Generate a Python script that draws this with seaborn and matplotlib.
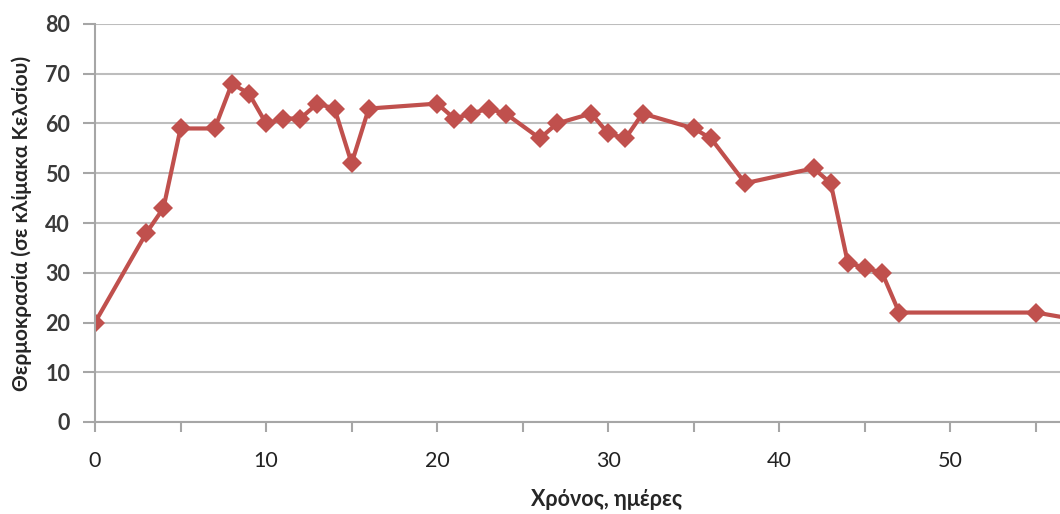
import pandas as pd
import matplotlib.pyplot as plt
import numpy as np
import seaborn as sns

# ημέρες και θερμοκρασία (διαβασμένα από το γράφημα)
days = [0, 3, 4, 5, 7, 8, 9, 10, 11, 12, 13, 14, 15, 16, 20, 21, 22, 23, 24,
        26, 27, 29, 30, 31, 32, 35, 36, 38, 42, 43, 44, 45, 46, 47, 55, 60]
temps = [20, 38, 43, 59, 59, 68, 66, 60, 61, 61, 64, 63, 52, 63, 64, 61, 62, 63, 62,
         57, 60, 62, 58, 57, 62, 59, 57, 48, 51, 48, 32, 31, 30, 22, 22, 19]
xticks = [0, 10, 20, 30, 40, 50]
yticks = [0, 10, 20, 30, 40, 50, 60, 70, 80]

df = pd.DataFrame({'day': days, 'temp': temps})

sns.set_style('white')
plt.rcParams['font.family'] = ['Lato', 'Open Sans', 'DejaVu Sans']

fig = plt.figure(figsize=(10.6, 5.14), dpi=100)
ax = fig.add_axes([95/1060, 92/514, (1060-95)/1060, 398/514])

sns.lineplot(data=df, x='day', y='temp', ax=ax, color='#C0504D', linewidth=3,
             marker='D', markersize=10, markeredgewidth=0, clip_on=True)

ax.set_xlim(0, 56.4)
ax.set_ylim(0, 80)
ax.set_yticks(yticks)
ax.set_xticks(xticks)
ax.set_xticks(np.arange(0, 57, 5), minor=True)
ax.yaxis.grid(True, color='#BDBDBD', linewidth=1.5)
ax.xaxis.grid(False)
ax.set_axisbelow(True)

for s in ['top', 'right']:
    ax.spines[s].set_visible(False)
for s in ['left', 'bottom']:
    ax.spines[s].set_color('#A6A6A6')
    ax.spines[s].set_linewidth(1.5)

ax.tick_params(axis='y', which='major', direction='out', length=9, width=1.5,
               color='#A6A6A6', labelsize=15.5, pad=9, left=True)
ax.tick_params(axis='x', which='both', direction='out', length=7, width=1.5,
               color='#A6A6A6', bottom=True)
ax.tick_params(axis='x', which='major', labelsize=15.5, pad=14)
for lab in ax.get_yticklabels():
    lab.set_fontweight('bold')
    lab.set_color('#3A3A3A')
for lab in ax.get_xticklabels():
    lab.set_color('#222222')

ax.set_xlabel('Χρόνος, ημέρες', fontsize=15.5, fontweight='bold', va='center')
ax.xaxis.set_label_coords(0.53, -78/398)
ax.set_ylabel('Θερμοκρασία (σε κλίμακα Κελσίου)', fontsize=15, fontweight='bold', va='center')
ax.yaxis.set_label_coords(-73/965, 0.5)

fig.savefig('out.png', dpi=100)
